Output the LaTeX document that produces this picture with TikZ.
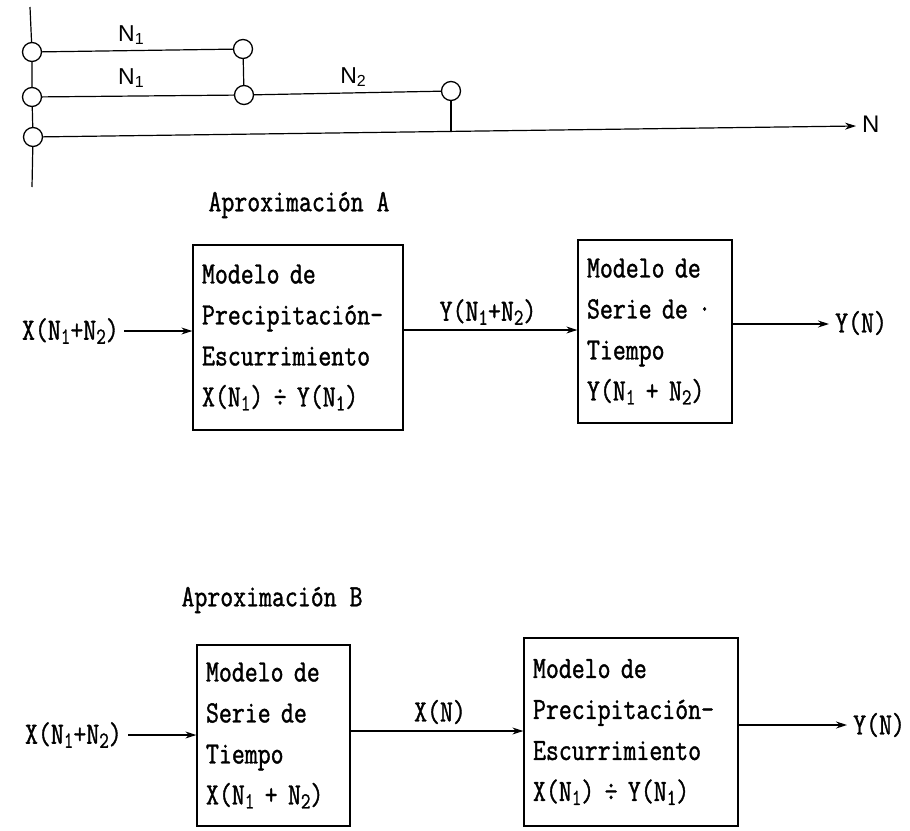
\documentclass[tikz,border=0pt]{standalone}
\usepackage{fontspec}
\setmainfont{Latin Modern Mono}[FakeStretch=0.81,FakeBold=1.2]
\newfontfamily\lblfont{Liberation Sans}
\usetikzlibrary{arrows.meta}
\newcommand\lowidx[1]{\raisebox{-0.3ex}{\fontsize{23}{23}\selectfont #1}}
\newcommand\lblidx[1]{\raisebox{-0.3ex}{\fontsize{16}{16}\selectfont #1}}
\begin{document}
\begin{tikzpicture}[x=1pt,y=-1pt,
  txt/.style={font=\fontsize{31}{41}\selectfont, inner sep=0pt},
  box/.style={draw, line width=1.3pt, align=left, inner xsep=9pt, inner ysep=0pt,
    font=\fontsize{31}{41}\selectfont},
  pin/.style={draw, circle, line width=1.3pt, minimum size=19pt, inner sep=0pt},
  ln/.style={line width=1.2pt},
  arr/.style={line width=1.2pt, -{Stealth[length=11pt,width=7pt]}},
  lbl/.style={font=\lblfont\fontsize{23}{23}\selectfont, inner sep=0pt}]
\useasboundingbox (0,0) rectangle (910,830);

% ---------- top time-line diagram ----------
\coordinate (vtop) at (30,7);
\coordinate (vbot) at (32,187);
\node[pin] (c1) at (32,52) {};
\node[pin] (c2) at (32,97) {};
\node[pin] (c3) at (33,137) {};
\node[pin] (c4) at (243,49) {};
\node[pin] (c5) at (244,95) {};
\node[pin] (c6) at (451,91) {};
\coordinate (nend) at (856,126);
\coordinate (jn) at (451,131.3);
\draw[ln] (vtop) -- (c1) -- (c2) -- (c3) -- (vbot);
\draw[ln] (c1) -- (c4);
\draw[ln] (c2) -- (c5) -- (c6);
\draw[ln] (c4) -- (c5);
\draw[ln] (c6) -- (jn);
\draw[arr] (c3) -- (nend);
\node[lbl] (n1a) at (131,35) {N\lblidx{1}};
\node[lbl] (n1b) at (131,78) {N\lblidx{1}};
\node[lbl] (n2) at (353,77) {N\lblidx{2}};
\node[lbl, anchor=west, font=\lblfont\fontsize{24}{24}\selectfont] (nn) at (862,124) {N};

% ---------- Aproximacion A ----------
\node[txt] (tA) at (299,205) {Aproximación A};
\node[box, text width=192pt, minimum height=185pt] (A1) at (298,337.5)
  {Modelo de\\Precipitación-\\Escurrimiento\\X(N\lowidx1) ÷ Y(N\lowidx1)};
\node[box, text width=136pt, minimum height=183pt] (A2) at (655,331.5)
  {Modelo de\\Serie de ·\\Tiempo\\Y(N\lowidx1 + N\lowidx2)};
\node[txt, anchor=east] (inA) at (119,331) {X(N\lowidx1+N\lowidx2)};
\node[txt] (midA) at (488,312) {Y(N\lowidx1+N\lowidx2)};
\node[txt, anchor=west] (outA) at (835,323) {Y(N)};
\coordinate (ya) at (0,330);
\coordinate (yo) at (0,324);
\draw[arr] ([xshift=5pt]inA.east) -- (inA.east -| A1.west);
\draw[arr] (A1.east |- ya) -- (A2.west |- ya);
\draw[arr] (A2.east |- yo) -- ([xshift=-6pt]outA.west |- yo);

% ---------- Aproximacion B ----------
\node[txt] (tB) at (272,600) {Aproximación B};
\node[box, text width=135pt, minimum height=181pt] (B1) at (273.5,735.5)
  {Modelo de\\Serie de\\Tiempo\\X(N\lowidx1 + N\lowidx2)};
\node[box, text width=196pt, minimum height=188pt] (B2) at (631,732)
  {Modelo de\\Precipitación-\\Escurrimiento\\X(N\lowidx1) ÷ Y(N\lowidx1)};
\node[txt, anchor=east] (inB) at (122,735) {X(N\lowidx1+N\lowidx2)};
\node[txt] (midB) at (440,712) {X(N)};
\node[txt, anchor=west] (outB) at (853,725) {Y(N)};
\coordinate (yb) at (0,731);
\coordinate (ybo) at (0,725);
\draw[arr] ([xshift=6pt]inB.east) -- (inB.east -| B1.west);
\draw[arr] (B1.east |- yb) -- (B2.west |- yb);
\draw[arr] (B2.east |- ybo) -- ([xshift=-6pt]outB.west |- ybo);
\end{tikzpicture}
\end{document}
